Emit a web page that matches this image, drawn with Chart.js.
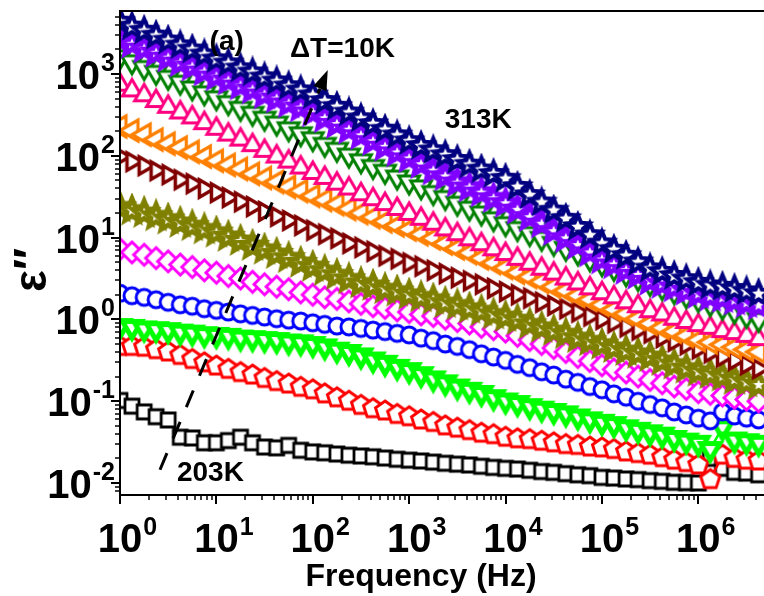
<!DOCTYPE html>
<html><head><meta charset="utf-8">
<script src="https://cdn.jsdelivr.net/npm/chart.js@4.4.1/dist/chart.umd.min.js"></script>
<style>html,body{margin:0;padding:0;background:#fff;overflow:hidden}canvas{display:block}</style>
</head><body>
<canvas id="c" width="764" height="596"></canvas>
<script>
// ---------- data ----------
const freq = [1,1.33,1.78,2.37,3.16,4.22,5.62,7.5,10,13.3,17.8,23.7,31.6,42.2,56.2,75,100,133,178,237,316,422,562,750,1000,1330,1780,2370,3160,4220,5620,7500,1e4,1.33e4,1.78e4,2.37e4,3.16e4,4.22e4,5.62e4,7.5e4,1e5,1.33e5,1.78e5,2.37e5,3.16e5,4.22e5,5.62e5,7.5e5,1e6,1.33e6,1.78e6,2.37e6,3.16e6,4.22e6];

const eps313K = [4365,3802,3388,2951,2570,2239,1995,1738,1514,1349,1175,1047,912,813,708,631,550,468,398,339,288,245,209,178,151,132,117,102,89,78,68,60,52.5,41.7,33.1,26.9,21.4,17.0,13.5,10.7,8.5,7.1,6.0,5.0,4.2,3.8,3.4,3.1,2.8,2.6,2.5,2.35,2.2,2.05];
const eps303K = [2630,2344,2042,1820,1585,1380,1230,1072,933,832,724,646,562,501,437,389,339,288,245,209,178,151,129,110,93,79,66,56,47,41,35.5,30.2,26.3,21.9,17.8,14.8,12.0,9.8,8.1,6.6,5.4,4.7,4.0,3.5,2.95,2.7,2.45,2.24,2.04,1.9,1.82,1.70,1.58,1.48];
const eps293K = [1622,1413,1202,1047,912,794,676,589,513,447,380,331,288,251,214,186,162,138,120,102,87,74,64.6,55,47.9,41.7,35.5,30.9,26.3,22.9,20.0,17.0,14.8,12.9,11.2,9.8,8.5,7.4,6.5,5.5,4.8,4.2,3.6,3.16,2.75,2.45,2.19,1.95,1.74,1.55,1.41,1.26,1.12,1.0];
const eps283K = [741,631,550,468,398,339,295,251,214,182,158,135,115,98,85,72,61.7,53.7,45.7,39.8,33.9,29.5,25.7,22.4,19.5,17.0,14.8,12.6,11.0,9.55,8.3,7.2,6.3,5.5,4.8,4.17,3.63,3.16,2.75,2.40,2.09,1.86,1.62,1.45,1.26,1.15,1.02,0.93,0.85,0.79,0.72,0.68,0.63,0.575];
const eps273K = [229,204,182,158,141,126,112,98,87,77.6,69.2,60.3,53.7,47.9,41.7,37.2,32.4,28.8,25.7,22.4,20.0,17.8,15.8,14.1,12.6,11.0,9.8,8.5,7.4,6.5,5.6,4.9,4.27,3.72,3.31,2.88,2.51,2.24,1.95,1.74,1.51,1.32,1.17,1.02,0.89,0.79,0.71,0.63,0.56,0.525,0.49,0.457,0.427,0.40];
const eps263K = [98,85,76,66,59,51,45.7,39.8,35.5,30.9,27.5,24.0,20.9,18.2,16.2,14.1,12.3,11.0,9.8,8.5,7.6,6.8,6.0,5.5,4.9,4.47,3.98,3.63,3.24,2.95,2.69,2.40,2.19,2.0,1.82,1.62,1.48,1.35,1.23,1.10,1.0,0.91,0.81,0.74,0.68,0.60,0.54,0.49,0.437,0.39,0.347,0.316,0.28,0.25];
const eps253K = [23.4,21.4,20.0,18.2,16.6,15.1,13.8,12.6,11.5,10.2,9.1,7.9,7.1,6.3,5.6,4.9,4.37,3.89,3.47,3.09,2.75,2.57,2.34,2.19,2.0,1.86,1.74,1.58,1.48,1.35,1.26,1.15,1.07,0.98,0.87,0.79,0.72,0.66,0.59,0.54,0.49,0.447,0.41,0.38,0.347,0.31,0.28,0.25,0.229,0.214,0.20,0.182,0.17,0.158];
const eps243K = [7.24,6.6,6.17,5.62,5.13,4.68,4.37,3.98,3.72,3.39,3.16,2.88,2.69,2.51,2.34,2.14,2.0,1.86,1.78,1.66,1.55,1.45,1.38,1.29,1.23,1.15,1.10,1.02,0.955,0.89,0.81,0.76,0.71,0.63,0.56,0.50,0.447,0.40,0.347,0.31,0.275,0.245,0.224,0.20,0.182,0.166,0.151,0.141,0.129,0.123,0.117,0.11,0.105,0.10];
const eps233K = [2.09,1.95,1.86,1.74,1.62,1.51,1.45,1.35,1.29,1.23,1.17,1.12,1.07,1.02,0.98,0.955,0.91,0.87,0.83,0.81,0.776,0.74,0.71,0.676,0.646,0.59,0.55,0.50,0.468,0.427,0.38,0.347,0.316,0.282,0.257,0.229,0.209,0.186,0.17,0.151,0.138,0.123,0.112,0.10,0.091,0.083,0.074,0.068,0.062,0.0575,0.074,0.066,0.062,0.059];
const eps223K = [0.83,0.81,0.776,0.76,0.74,0.71,0.69,0.66,0.646,0.63,0.60,0.59,0.575,0.56,0.537,0.525,0.50,0.468,0.427,0.40,0.363,0.324,0.295,0.263,0.24,0.214,0.19,0.17,0.151,0.138,0.126,0.112,0.102,0.095,0.087,0.081,0.076,0.071,0.065,0.06,0.056,0.0525,0.048,0.0447,0.0417,0.039,0.0355,0.033,0.031,0.026,0.048,0.034,0.0324,0.031];
const eps213K = [0.468,0.468,0.457,0.427,0.40,0.363,0.324,0.295,0.269,0.245,0.224,0.209,0.19,0.174,0.162,0.148,0.138,0.123,0.11,0.10,0.089,0.081,0.076,0.069,0.0646,0.059,0.055,0.05,0.0468,0.0437,0.0407,0.039,0.0363,0.0347,0.0339,0.0324,0.031,0.0295,0.0288,0.0275,0.0269,0.0257,0.024,0.0229,0.0219,0.0204,0.019,0.0178,0.0166,0.011,0.0219,0.02,0.019,0.0186];
const eps203K = [0.102,0.087,0.074,0.0646,0.059,0.0363,0.0355,0.031,0.031,0.033,0.0363,0.031,0.0275,0.0269,0.0288,0.0251,0.024,0.0234,0.0226,0.0219,0.0214,0.0209,0.0202,0.0195,0.019,0.0186,0.018,0.0174,0.017,0.0166,0.016,0.0155,0.0151,0.0148,0.0143,0.0138,0.0135,0.013,0.0126,0.0123,0.0117,0.0115,0.0112,0.011,0.0107,0.0105,0.0102,0.0101,0.010,0.02,0.0151,0.0135,0.0132,0.0126];

const xTickExp = [0,1,2,3,4,5,6];
const yTickExp = [-2,-1,0,1,2,3];

// ---------- styles ----------
const FONT = '"Liberation Sans", Arial, Helvetica, sans-serif';
function poly(n, r, rot){const p=[];for(let i=0;i<n;i++){const a=(rot+i*360/n)*Math.PI/180;p.push([r*Math.cos(a),r*Math.sin(a)]);}return p;}
function starPts(r, ri){const p=[];for(let i=0;i<10;i++){const a=(-90+i*36)*Math.PI/180;const rr=i%2?ri:r;p.push([rr*Math.cos(a),rr*Math.sin(a)]);}return p;}
function marker(shape, color, r, lw){
  const s=Math.ceil(2*(r+lw))+2;
  const c=document.createElement('canvas'); c.width=s; c.height=s;
  const g=c.getContext('2d'); const cx=s/2, cy=s/2;
  g.beginPath();
  if(shape==='square'){ g.rect(cx-r,cy-r,2*r,2*r); }
  else if(shape==='circle'){ g.arc(cx,cy,r,0,2*Math.PI); }
  else {
    let pts;
    if(shape==='triUp') pts=poly(3,r,-90);
    else if(shape==='triDown') pts=poly(3,r,90);
    else if(shape==='triLeft') pts=poly(3,r,180);
    else if(shape==='triRight') pts=poly(3,r,0);
    else if(shape==='diamond') pts=poly(4,r,-90);
    else if(shape==='pentagon') pts=poly(5,r,-90);
    else if(shape==='star') pts=starPts(r,r*0.45);
    pts.forEach((p,i)=>{ if(i===0) g.moveTo(cx+p[0],cy+p[1]); else g.lineTo(cx+p[0],cy+p[1]); });
  }
  g.closePath();
  g.fillStyle='#fff'; g.fill();
  g.lineJoin='miter'; g.miterLimit=3; g.lineWidth=lw; g.strokeStyle=color; g.stroke();
  return c;
}

const series = [
  {label:'313K', vals:eps313K, color:'#000080', shape:'star',     r:12, lw:4},
  {label:'303K', vals:eps303K, color:'#8000ff', shape:'star',     r:12, lw:5},
  {label:'293K', vals:eps293K, color:'#008000', shape:'triDown',  r:12, lw:3},
  {label:'283K', vals:eps283K, color:'#ff0080', shape:'triUp',    r:11, lw:3},
  {label:'273K', vals:eps273K, color:'#ff8000', shape:'triLeft',  r:12, lw:3.2},
  {label:'263K', vals:eps263K, color:'#800000', shape:'triRight', r:10, lw:3.5},
  {label:'253K', vals:eps253K, color:'#808000', shape:'star',     r:12, lw:5},
  {label:'243K', vals:eps243K, color:'#ff00ff', shape:'diamond',  r:10.5, lw:3},
  {label:'233K', vals:eps233K, color:'#0000ff', shape:'circle',   r:8,  lw:3},
  {label:'223K', vals:eps223K, color:'#00ff00', shape:'triDown',  r:11, lw:5},
  {label:'213K', vals:eps213K, color:'#ff0000', shape:'pentagon', r:10, lw:3},
  {label:'203K', vals:eps203K, color:'#000000', shape:'square',   r:7,  lw:2.8}
];

const datasets = series.map(s=>({
  label:s.label,
  data:freq.map((f,i)=>({x:f,y:s.vals[i]})),
  borderColor:s.color, backgroundColor:s.color, borderWidth:2.5,
  pointStyle:marker(s.shape,s.color,s.r,s.lw), pointRadius:9,
  tension:0, fill:false
}));

const notes = [
  {text:'(a)',    f:8.5,  v:1950},
  {text:'ΔT=10K', f:58,   v:1620},
  {text:'313K',   f:2340, v:219},
  {text:'203K',   f:3.9,  v:0.0106}
];
const arrowFrom = {f:2.6, v:0.0145};
const arrowTo   = {f:143, v:1120};

function drawPow(ctx, exp, x, baseY, supY, align){
  const big='bold 40px '+FONT, small='bold 25px '+FONT;
  ctx.font=big; const w1=ctx.measureText('10').width;
  const sup=String(exp);
  ctx.font=small; const w2=ctx.measureText(sup).width;
  let x0;
  if(align==='right') x0=x-(w1+1+w2); else x0=x-w1/2;
  ctx.textAlign='left'; ctx.textBaseline='alphabetic';
  ctx.font=big; ctx.fillText('10',x0,baseY);
  ctx.font=small; ctx.fillText(sup,x0+w1+1,supY);
}

const framePlugin = {
  id:'frame',
  afterDraw(chart){
    const ctx=chart.ctx, xs=chart.scales.x, ys=chart.scales.y, a=chart.chartArea;
    ctx.save();
    ctx.fillStyle='#000'; ctx.strokeStyle='#000';
    ctx.lineWidth=2;
    ctx.beginPath();
    ctx.moveTo(a.left,a.top); ctx.lineTo(a.right+2,a.top);
    ctx.moveTo(a.left,a.top-1); ctx.lineTo(a.left,a.bottom);
    ctx.lineTo(a.right+2,a.bottom);
    ctx.stroke();
    for(let d=0; d<=6; d++){
      for(let m=1; m<=9; m++){
        const v=m*Math.pow(10,d); if(v>xs.max) break;
        const px=Math.round(xs.getPixelForValue(v));
        ctx.lineWidth = m===1?2:1.5;
        ctx.beginPath(); ctx.moveTo(px,a.bottom); ctx.lineTo(px,a.bottom+(m===1?9:5)); ctx.stroke();
      }
    }
    for(let d=-3; d<=3; d++){
      for(let m=1; m<=9; m++){
        const v=m*Math.pow(10,d); if(v<ys.min||v>ys.max) continue;
        const py=Math.round(ys.getPixelForValue(v));
        ctx.lineWidth = m===1?2:1.5;
        ctx.beginPath(); ctx.moveTo(a.left,py); ctx.lineTo(a.left-(m===1?9:5),py); ctx.stroke();
      }
    }
    xTickExp.forEach(e=>{
      const px=xs.getPixelForValue(Math.pow(10,e));
      drawPow(ctx,e,px,552,535,'center');
    });
    yTickExp.forEach(e=>{
      const py=ys.getPixelForValue(Math.pow(10,e));
      drawPow(ctx,e,115,py+15,py-3,'right');
    });
    ctx.font='bold 32px '+FONT; ctx.textAlign='center'; ctx.textBaseline='alphabetic';
    ctx.fillText('Frequency (Hz)', 421, 586);
    ctx.save(); ctx.translate(46,270); ctx.rotate(-Math.PI/2);
    ctx.font='bold 46px '+FONT; ctx.textAlign='center'; ctx.fillText('ε′′',0,0);
    ctx.restore();
    ctx.font='bold 28px '+FONT; ctx.textAlign='left';
    notes.forEach(n=>{ ctx.fillText(n.text, xs.getPixelForValue(n.f), ys.getPixelForValue(n.v)); });
    const x0=xs.getPixelForValue(arrowFrom.f), y0=ys.getPixelForValue(arrowFrom.v);
    const x1=xs.getPixelForValue(arrowTo.f), y1=ys.getPixelForValue(arrowTo.v);
    const ang=Math.atan2(y1-y0,x1-x0), hl=20, hw=7;
    const bx=x1-hl*Math.cos(ang), by=y1-hl*Math.sin(ang);
    ctx.lineWidth=3; ctx.setLineDash([18,16]);
    ctx.beginPath(); ctx.moveTo(x0,y0); ctx.lineTo(bx,by); ctx.stroke();
    ctx.setLineDash([]);
    ctx.beginPath(); ctx.moveTo(x1,y1);
    ctx.lineTo(bx-hw*Math.sin(ang), by+hw*Math.cos(ang));
    ctx.lineTo(bx+hw*Math.sin(ang), by-hw*Math.cos(ang));
    ctx.closePath(); ctx.fill();
    ctx.restore();
  }
};

new Chart(document.getElementById('c'), {
  type:'line',
  data:{datasets},
  options:{
    responsive:false, animation:false, devicePixelRatio:1,
    layout:{padding:{top:11,left:0,right:0,bottom:0}, autoPadding:false},
    plugins:{legend:{display:false}, tooltip:{enabled:false}},
    scales:{
      x:{type:'logarithmic', min:1, max:4.8e6, grid:{display:false}, border:{display:false}, ticks:{display:false}, afterFit(s){s.height=101;}},
      y:{type:'logarithmic', min:0.00713, max:5900, grid:{display:false}, border:{display:false}, ticks:{display:false}, afterFit(s){s.width=120;}}
    }
  },
  plugins:[framePlugin]
});
</script>
</body></html>
